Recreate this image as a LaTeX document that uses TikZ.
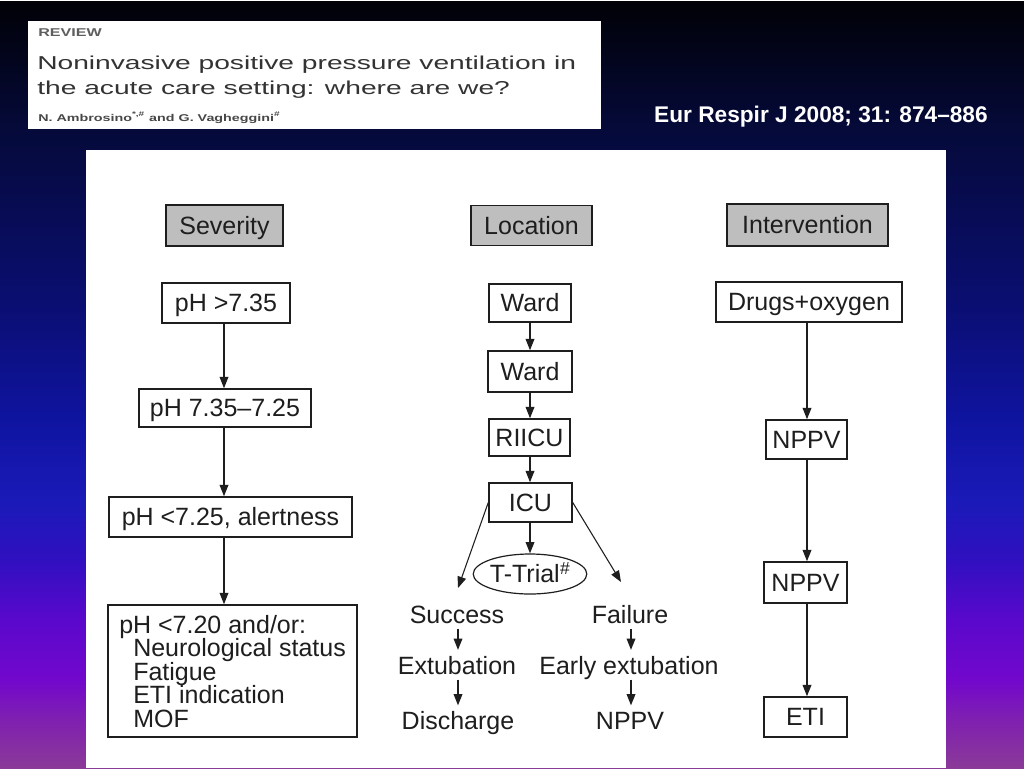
\documentclass[tikz,border=0pt]{standalone}
\usepackage{fontspec}
\setmainfont{Liberation Sans}
\usetikzlibrary{arrows.meta,shapes.geometric,calc}
\definecolor{ink}{HTML}{1E1E1E}
\definecolor{hdrgray}{HTML}{BEBEBE}
\definecolor{revgray}{HTML}{5E5E5E}
\definecolor{titlegray}{HTML}{333333}
\definecolor{authgray}{HTML}{474747}
\definecolor{ga}{HTML}{8A3A98}
\definecolor{gb}{HTML}{8020B0}
\definecolor{gc}{HTML}{7208CC}
\definecolor{gd}{HTML}{5A08CC}
\definecolor{ge}{HTML}{3010C0}
\definecolor{gf}{HTML}{1A1AB8}
\definecolor{gg}{HTML}{0F14A0}
\definecolor{gh}{HTML}{0A0E70}
\definecolor{gi}{HTML}{050A3A}
\definecolor{gj}{HTML}{010106}
\pgfdeclareverticalshading{bgshade}{768pt}{color(0pt)=(ga); color(36pt)=(gb); color(66pt)=(gc); color(111pt)=(gd); color(156pt)=(ge); color(201pt)=(gf); color(261pt)=(gg); color(351pt)=(gh); color(478.5pt)=(gi); color(576pt)=(gj)}
\newcommand{\figfont}{\fontsize{18.75}{17.6}\selectfont}
\begin{document}
\begin{tikzpicture}[x=0.75pt,y=-0.75pt,
  bx/.style 2 args={minimum width=#1*0.75pt, minimum height=#2*0.75pt},
  box/.style={draw=ink, line width=1.1pt, fill=white, inner sep=0pt, text=ink, font=\figfont, text height=13.4pt, text depth=0pt},
  hdr/.style={box, fill=hdrgray},
  txt/.style={inner sep=0pt, text=ink, font=\figfont, text height=13.4pt, text depth=0pt},
  arr/.style={draw=ink, line width=1pt, -{Triangle[length=8.5pt,width=6.5pt]}},
  darr/.style={draw=ink, line width=0.8pt, -{Triangle[length=8.5pt,width=6.5pt]}},
  sarr/.style={arr, shorten <=3.75pt, shorten >=4.8pt}]
\useasboundingbox (0,0) rectangle (1024,768);
\node[inner sep=0pt, outer sep=0pt, anchor=north west] (bg) at (0,0) {\pgfuseshading{bgshade}};
% paper clipping
\fill[white] (28,21) rectangle (601,129);
\node[anchor=base west, inner sep=0pt, text=revgray, font=\bfseries\fontsize{8.5}{10}\selectfont] (review) at (38,36) {\scalebox{1.42}[1]{REVIEW}};
\node[anchor=base west, inner sep=0pt, text=titlegray, font=\fontsize{14}{16}\selectfont] (title1) at (37,69) {\scalebox{1.51}[1]{Noninvasive positive pressure ventilation in}};
\node[anchor=base west, inner sep=0pt, text=titlegray, font=\fontsize{14}{16}\selectfont] (title2) at (37,94) {\scalebox{1.51}[1]{the acute care setting: where are we?}};
\node[anchor=base west, inner sep=0pt, text=authgray, font=\bfseries\fontsize{7.4}{9}\selectfont] (authors) at (38,121) {\scalebox{1.45}[1]{N. Ambrosino\textsuperscript{*,\#} and G. Vagheggini\textsuperscript{\#}}};
\node[anchor=base east, inner sep=0pt, text=white, font=\bfseries\fontsize{17}{20}\selectfont] (cite) at (988,122) {Eur Respir J 2008; 31: 874--886};
% white panel
\fill[white] (86,150) rectangle (946,768);
% column coordinates
\coordinate (cs) at (224,0);
\coordinate (ci) at (807,0);
\coordinate (cl) at (458,0);
\coordinate (cr) at (631,0);
% headers
\node[hdr, bx={117}{41}] (hsev) at (224.5,225.5) {Severity};
\node[hdr, bx={121}{40}] (hloc) at (531.5,225.5) {Location};
\node[hdr, bx={161}{42}] (hint) at (807.5,225) {Intervention};
% severity column
\node[box, bx={128}{40}] (s1) at (226,303) {pH >7.35};
\node[box, bx={172}{38}] (s2) at (225,408) {pH 7.35--7.25};
\node[box, bx={243}{40}] (s3) at (230.5,517) {pH <7.25, alertness};
\node[box, bx={249}{132}] (s4) at (232.5,671) {};
\node[anchor=north west, inner sep=0pt, text=ink, font=\figfont, align=left] (s4t) at (119,615) {pH <7.20 and/or:\\\hspace*{10.5pt}Neurological status\\\hspace*{10.5pt}Fatigue\\\hspace*{10.5pt}ETI indication\\\hspace*{10.5pt}MOF};
\draw[arr] (s1.south -| cs) -- (s2.north -| cs);
\draw[arr] (s2.south -| cs) -- (s3.north -| cs);
\draw[arr] (s3.south -| cs) -- (s4.north -| cs);
% location column
\node[box, bx={82}{38}] (l1) at (530,303) {Ward};
\node[box, bx={84}{41}] (l2) at (530,371.5) {Ward};
\node[box, bx={81}{37}] (l3) at (529.5,437.5) {RIICU};
\node[box, bx={83}{39}] (l4) at (530.5,502.5) {ICU};
\node[ellipse, draw=ink, line width=0.9pt, fill=white, inner sep=0pt, text=ink, font=\figfont, text height=13.4pt, text depth=0pt, bx={102}{40}] (tt) at (530,574) {T-Trial\textsuperscript{\itshape\#}};
\draw[arr] (l1.south -| tt) -- (l2.north -| tt);
\draw[arr] (l2.south -| tt) -- (l3.north -| tt);
\draw[arr] (l3.south -| tt) -- (l4.north -| tt);
\draw[arr] (l4.south -| tt) -- (tt.north);
\coordinate (dl) at (458,588);
\coordinate (dr) at (621,582);
\draw[darr] (l4.west) -- (dl);
\draw[darr] (l4.east) -- (dr);
\node[txt] (succ) at (457,614.5) {Success};
\node[txt] (ext) at (457,665.5) {Extubation};
\node[txt] (dis) at (458,721) {Discharge};
\node[txt] (fail) at (630,614.5) {Failure};
\node[txt] (early) at (629,665.5) {Early extubation};
\node[txt] (nppv3) at (630,721) {NPPV};
\draw[sarr] (succ.south -| cl) -- (ext.north -| cl);
\draw[sarr] (ext.south -| cl) -- (dis.north -| cl);
\draw[sarr] (fail.south -| cr) -- (early.north -| cr);
\draw[sarr] (early.south -| cr) -- (nppv3.north -| cr);
% intervention column
\node[box, bx={186}{40}] (i1) at (809,302) {Drugs+oxygen};
\node[box, bx={81}{39}] (i2) at (806.5,439.5) {NPPV};
\node[box, bx={83}{41}] (i3) at (805.5,582.5) {NPPV};
\node[box, bx={83}{40}] (i4) at (805.5,717) {ETI};
\draw[arr] (i1.south -| ci) -- (i2.north -| ci);
\draw[arr] (i2.south -| ci) -- (i3.north -| ci);
\draw[arr] (i3.south -| ci) -- (i4.north -| ci);
\end{tikzpicture}
\end{document}
